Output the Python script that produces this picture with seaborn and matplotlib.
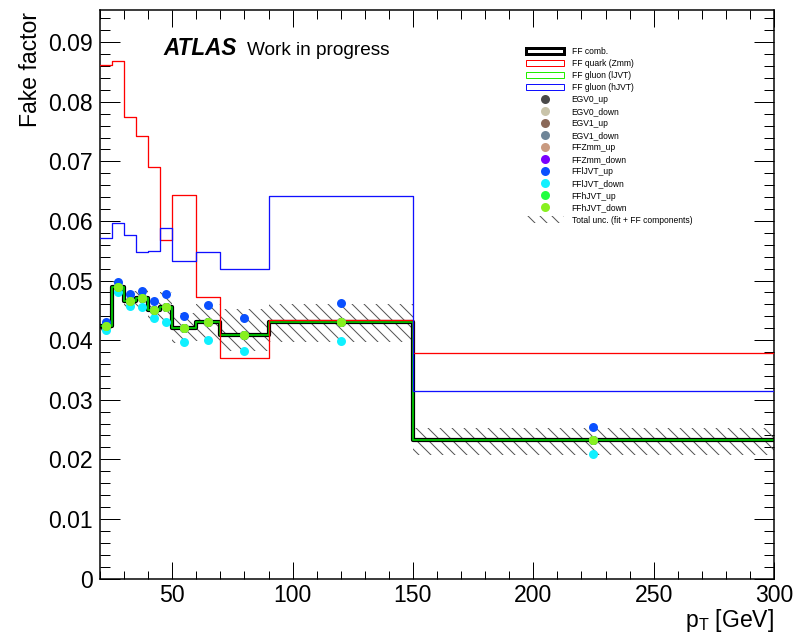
import matplotlib
matplotlib.use("Agg")
import matplotlib.pyplot as plt
import numpy as np
import pandas as pd
import seaborn as sns
from matplotlib.patches import Patch
from matplotlib.lines import Line2D
from matplotlib.ticker import MultipleLocator, FuncFormatter

# pT binning of the fake-factor measurement [GeV]
bin_edges = [20, 25, 30, 35, 40, 45, 50, 60, 70, 90, 150, 300]
bin_centers = [22.5, 27.5, 32.5, 37.5, 42.5, 47.5, 55, 65, 80, 120, 225]

# fake factors per bin
ff_comb = [0.0423, 0.0490, 0.0466, 0.0470, 0.0450, 0.0455, 0.0420, 0.0430, 0.0409, 0.0431, 0.0232]
ff_quark_zmm = [0.0862, 0.0868, 0.0774, 0.0743, 0.0690, 0.0568, 0.0644, 0.0473, 0.0370, 0.0434, 0.0378]
ff_gluon_ljvt = [0.0423, 0.0490, 0.0466, 0.0470, 0.0450, 0.0455, 0.0420, 0.0430, 0.0409, 0.0431, 0.0232]
ff_gluon_hjvt = [0.0572, 0.0597, 0.0576, 0.0548, 0.0550, 0.0589, 0.0533, 0.0548, 0.0520, 0.0642, 0.0314]

# total uncertainty band (fit + FF components)
unc_low = [0.0415, 0.0478, 0.0450, 0.0452, 0.0432, 0.0432, 0.0395, 0.0398, 0.0382, 0.0397, 0.0208]
unc_high = [0.0431, 0.0500, 0.0482, 0.0488, 0.0470, 0.0480, 0.0445, 0.0460, 0.0452, 0.0461, 0.0252]

# systematic variations of the combined fake factor
egv0_up = [0.0423, 0.0490, 0.0466, 0.0470, 0.0450, 0.0455, 0.0420, 0.0430, 0.0409, 0.0431, 0.0232]
egv0_down = [0.0423, 0.0490, 0.0466, 0.0470, 0.0450, 0.0455, 0.0420, 0.0430, 0.0409, 0.0431, 0.0232]
egv1_up = [0.0423, 0.0490, 0.0466, 0.0470, 0.0450, 0.0455, 0.0420, 0.0430, 0.0409, 0.0431, 0.0232]
egv1_down = [0.0423, 0.0490, 0.0466, 0.0470, 0.0450, 0.0455, 0.0420, 0.0430, 0.0409, 0.0431, 0.0232]
ffzmm_up = [0.0423, 0.0490, 0.0466, 0.0470, 0.0450, 0.0455, 0.0420, 0.0430, 0.0409, 0.0431, 0.0232]
ffzmm_down = [0.0423, 0.0490, 0.0466, 0.0470, 0.0450, 0.0455, 0.0420, 0.0430, 0.0409, 0.0431, 0.0232]
ffljvt_up = [0.0430, 0.0497, 0.0478, 0.0483, 0.0466, 0.0477, 0.0440, 0.0459, 0.0437, 0.0463, 0.0254]
ffljvt_down = [0.0417, 0.0480, 0.0458, 0.0455, 0.0437, 0.0430, 0.0397, 0.0400, 0.0381, 0.0398, 0.0209]
ffhjvt_up = [0.0423, 0.0490, 0.0466, 0.0470, 0.0450, 0.0455, 0.0420, 0.0430, 0.0409, 0.0431, 0.0232]
ffhjvt_down = [0.0423, 0.0490, 0.0466, 0.0470, 0.0450, 0.0455, 0.0420, 0.0430, 0.0409, 0.0431, 0.0232]

variations = [
    ("EGV0_up", egv0_up, "#4a4a4a"),
    ("EGV0_down", egv0_down, "#c9c4aa"),
    ("EGV1_up", egv1_up, "#8a6858"),
    ("EGV1_down", egv1_down, "#6f8598"),
    ("FFZmm_up", ffzmm_up, "#c99a80"),
    ("FFZmm_down", ffzmm_down, "#7a00ff"),
    ("FFlJVT_up", ffljvt_up, "#0a50ff"),
    ("FFlJVT_down", ffljvt_down, "#10f0ff"),
    ("FFhJVT_up", ffhjvt_up, "#20ff40"),
    ("FFhJVT_down", ffhjvt_down, "#88f020"),
]

sns.set_theme(style="ticks")
plt.rcParams.update({
    "font.family": ["Liberation Sans", "DejaVu Sans"],
    "mathtext.fontset": "custom",
    "mathtext.rm": "Liberation Sans",
    "text.color": "black",
    "axes.labelcolor": "black",
    "axes.edgecolor": "black",
    "xtick.color": "black",
    "ytick.color": "black",
    "hatch.linewidth": 1.0,
})

DPI = 72
W, H = 795, 635
fig = plt.figure(figsize=(W / DPI, H / DPI), dpi=DPI)
fig.patch.set_facecolor("white")
ax = fig.add_axes([100 / W, 56.5 / H, 674 / W, 568.5 / H])


def step_frame(values):
    return pd.DataFrame({"pt": bin_edges, "ff": list(values) + [values[-1]]})


# hatched total uncertainty band
ax.fill_between(bin_edges, unc_low + [unc_low[-1]], unc_high + [unc_high[-1]],
                step="post", facecolor="none", edgecolor="#555555",
                hatch="\\\\", linewidth=0, zorder=1)

sns.lineplot(data=step_frame(ff_quark_zmm), x="pt", y="ff", color="#ff0000",
             linewidth=1.3, drawstyle="steps-post", ax=ax, legend=False, zorder=3)
sns.lineplot(data=step_frame(ff_gluon_hjvt), x="pt", y="ff", color="#1010ff",
             linewidth=1.3, drawstyle="steps-post", ax=ax, legend=False, zorder=3)
sns.lineplot(data=step_frame(ff_comb), x="pt", y="ff", color="black",
             linewidth=4.2, drawstyle="steps-post", ax=ax, legend=False, zorder=2)
sns.lineplot(data=step_frame(ff_gluon_ljvt), x="pt", y="ff", color="#00c800",
             linewidth=1.8, drawstyle="steps-post", ax=ax, legend=False, zorder=2.5)

for name, vals, col in variations:
    sns.scatterplot(x=bin_centers, y=vals, color=col, s=81, linewidth=0,
                    ax=ax, legend=False, zorder=5)

ax.set_xlim(20, 300)
ax.set_ylim(0, 0.0954)
ax.xaxis.set_major_locator(MultipleLocator(50))
ax.xaxis.set_minor_locator(MultipleLocator(10))
ax.yaxis.set_major_locator(MultipleLocator(0.01))
ax.yaxis.set_minor_locator(MultipleLocator(0.002))
ax.yaxis.set_major_formatter(FuncFormatter(lambda v, p: "0" if abs(v) < 1e-9 else f"{v:.2f}"))

ax.tick_params(which="both", direction="in", top=True, right=True, width=1,
               labelsize=23)
ax.tick_params(axis="x", which="major", length=17, pad=5)
ax.tick_params(axis="x", which="minor", length=8.5)
ax.tick_params(axis="y", which="major", length=20, pad=7)
ax.tick_params(axis="y", which="minor", length=10)
for sp in ax.spines.values():
    sp.set_linewidth(1.5)
    sp.set_color("black")

ax.set_xlabel(r"p$_{\mathregular{T}}$ [GeV]", fontsize=23, loc="right")
ax.xaxis.set_label_coords(1.0, -0.05)
ax.set_ylabel("Fake factor", fontsize=23, loc="top")
ax.yaxis.set_label_coords(-0.086, 0.996)

fig.text(163 / W, (H - 55) / H, "ATLAS", fontsize=22.5, fontweight="bold",
         fontstyle="italic", ha="left", va="baseline")
fig.text(247 / W, (H - 55) / H, "Work in progress", fontsize=19,
         ha="left", va="baseline")

handles = [
    Patch(facecolor="white", edgecolor="black", linewidth=3),
    Patch(facecolor="white", edgecolor="#ff0000", linewidth=1),
    Patch(facecolor="white", edgecolor="#22ee00", linewidth=1),
    Patch(facecolor="white", edgecolor="#1010ff", linewidth=1),
]
labels = ["FF comb.", "FF quark (Zmm)", "FF gluon (lJVT)", "FF gluon (hJVT)"]
for name, vals, col in variations:
    handles.append(Line2D([], [], linestyle="none", marker="o", markersize=9,
                          markerfacecolor=col, markeredgewidth=0))
    labels.append(name)
handles.append(Patch(facecolor="none", edgecolor="#555555", hatch="\\\\", linewidth=0))
labels.append("Total unc. (fit + FF components)")

fig.legend(handles, labels, loc="upper left",
           bbox_to_anchor=(526 / W, (H - 46.8) / H), frameon=False,
           fontsize=8.5, handlelength=4.47, handleheight=0.8,
           handletextpad=0.9, labelspacing=0.36, borderpad=0, borderaxespad=0)

fig.savefig("out.png", dpi=DPI)
